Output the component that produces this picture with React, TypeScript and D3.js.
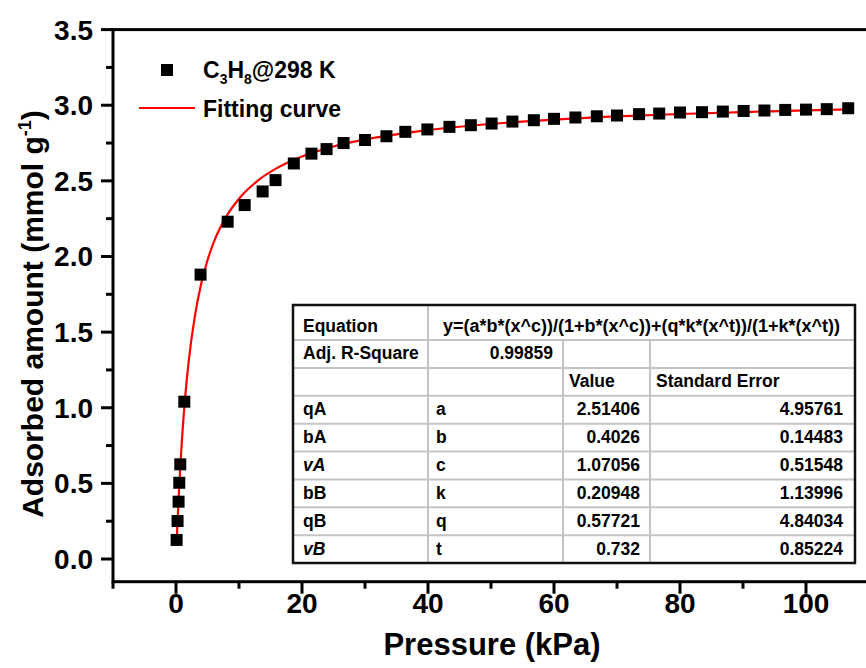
import React from 'react';
import * as d3 from 'd3';

// C3H8 isotherm at 298 K
const pressure = [0.1, 0.25, 0.41, 0.52, 0.68, 1.32, 3.9, 8.2, 10.9, 13.75, 15.8, 18.7, 21.5, 23.9, 26.6, 30.0, 33.4,
  36.4, 39.9, 43.4, 46.8, 50.1, 53.4, 56.8, 60.0, 63.4, 66.8, 70.0, 73.5, 76.7, 80.0, 83.5, 86.8, 90.1, 93.4, 96.7,
  100.0, 103.3, 106.7];
const adsorbed = [0.126, 0.251, 0.379, 0.504, 0.626, 1.04, 1.88, 2.23, 2.34, 2.43, 2.505, 2.615, 2.68, 2.71, 2.75,
  2.77, 2.795, 2.824, 2.84, 2.857, 2.868, 2.879, 2.892, 2.901, 2.91, 2.919, 2.927, 2.932, 2.941, 2.945, 2.952, 2.954,
  2.958, 2.962, 2.965, 2.969, 2.971, 2.974, 2.98];

// red fitting curve
const fitPressure = [0.1, 0.2, 0.3, 0.4, 0.6, 0.8, 1, 1.5, 2, 3, 4, 5, 6, 8, 10, 13, 16, 20, 25, 30, 40, 50, 60, 70,
  80, 90, 100, 106.7];
const fitAdsorbed = [0.105, 0.204, 0.297, 0.386, 0.548, 0.692, 0.822, 1.09, 1.301, 1.607, 1.82, 1.975, 2.095, 2.265,
  2.382, 2.502, 2.584, 2.661, 2.727, 2.774, 2.836, 2.876, 2.905, 2.926, 2.942, 2.955, 2.966, 2.972];

const xTicks = [0, 20, 40, 60, 80, 100];
const xMinorTicks = [-10, 10, 30, 50, 70, 90, 110];
const yTicks = [0, 0.5, 1, 1.5, 2, 2.5, 3, 3.5];
const yMinorTicks = [0.25, 0.75, 1.25, 1.75, 2.25, 2.75, 3.25];

// fit result table
const equation = 'y=(a*b*(x^c))/(1+b*(x^c))+(q*k*(x^t))/(1+k*(x^t))';
const adjRSquare = '0.99859';
const tableParams = ['qA', 'bA', 'vA', 'bB', 'qB', 'vB'];
const italicParams = ['vA', 'vB'];
const tableSymbols = ['a', 'b', 'c', 'k', 'q', 't'];
const tableValues = ['2.51406', '0.4026', '1.07056', '0.20948', '0.57721', '0.732'];
const tableErrors = ['4.95761', '0.14483', '0.51548', '1.13996', '4.84034', '0.85224'];

const W = 866;
const H = 668;
const FONT = '"Liberation Sans", Arial, Helvetica, sans-serif';

export default function App() {
  const x = d3.scaleLinear().domain([-10, 110]).range([113, 869]);
  const y = d3.scaleLinear().domain([-0.15, 3.5]).range([581.7, 29.6]);
  const [x0, x1] = x.range();
  const [yb, yt] = y.range();

  const fitLine = d3.line<number>()
    .x((d) => x(d))
    .y((d, i) => y(fitAdsorbed[i]))
    .curve(d3.curveMonotoneX);

  const fmt = d3.format('.1f');

  // table geometry
  const tL = 293, tR = 855, c1 = 428, c2 = 563, c3 = 650;
  const tTop = 305, row1 = 340, tBot = 563;
  const rowH = (tBot - row1) / 8;
  const rowTop = (i: number) => (i === 0 ? tTop : row1 + (i - 1) * rowH);
  const rowBase = (i: number) => rowTop(i + 1) - 8.5;
  const grid = '#c4c4c4';

  return (
    <svg width={W} height={H} style={{ position: 'absolute', left: 0, top: 0, background: '#fff' }}
      fontFamily={FONT} fontWeight="bold">
      <rect width={W} height={H} fill="#fff" />

      {/* fitting curve */}
      <path d={fitLine(fitPressure) || ''} fill="none" stroke="#ff0000" strokeWidth={2.2} />

      {/* data points */}
      {pressure.map((p, i) => (
        <rect key={i} x={x(p) - 6} y={y(adsorbed[i]) - 6} width={12} height={12} fill="#000" />
      ))}

      {/* axes frame */}
      <rect x={x0} y={yt} width={x1 - x0} height={yb - yt} fill="none" stroke="#000" strokeWidth={3} />

      {/* x ticks */}
      {xTicks.map((t) => (
        <g key={t}>
          <line x1={x(t)} x2={x(t)} y1={yb} y2={yb + 12} stroke="#000" strokeWidth={3} />
          <text x={x(t)} y={613} textAnchor="middle" fontSize={28}>{t}</text>
        </g>
      ))}
      {xMinorTicks.map((t) => (
        <line key={t} x1={x(t)} x2={x(t)} y1={yb} y2={yb + 7} stroke="#000" strokeWidth={3} />
      ))}

      {/* y ticks */}
      {yTicks.map((t) => (
        <g key={t}>
          <line x1={x0 - 12} x2={x0} y1={y(t)} y2={y(t)} stroke="#000" strokeWidth={3} />
          <text x={93} y={y(t) + 10} textAnchor="end" fontSize={28}>{fmt(t)}</text>
        </g>
      ))}
      {yMinorTicks.map((t) => (
        <line key={t} x1={x0 - 7} x2={x0} y1={y(t)} y2={y(t)} stroke="#000" strokeWidth={3} />
      ))}

      {/* axis titles */}
      <text x={(x(0) + x(100)) / 2 + 1} y={655} textAnchor="middle" fontSize={31}>Pressure (kPa)</text>
      <text transform="translate(43,314) rotate(-90)" textAnchor="middle" fontSize={30}>
        Adsorbed amount (mmol g<tspan fontSize={18} dy={-12}>-1</tspan><tspan dy={12}>)</tspan>
      </text>

      {/* legend */}
      <rect x={161} y={64} width={12} height={12} fill="#000" />
      <text x={203} y={78} fontSize={23}>
        C<tspan fontSize={14} dy={6}>3</tspan><tspan dy={-6}>H</tspan><tspan fontSize={14} dy={6}>8</tspan>
        <tspan dy={-6}>@298 K</tspan>
      </text>
      <line x1={139} x2={195} y1={108} y2={108} stroke="#ff0000" strokeWidth={2.2} />
      <text x={203} y={116.5} fontSize={23}>Fitting curve</text>

      {/* fit table */}
      <g fontSize={17.5}>
        <rect x={tL} y={tTop} width={tR - tL} height={tBot - tTop} fill="#fff" />
        {d3.range(1, 9).map((i) => (
          <line key={i} x1={tL} x2={tR} y1={rowTop(i)} y2={rowTop(i)} stroke={grid} strokeWidth={2} />
        ))}
        <line x1={c1} x2={c1} y1={tTop} y2={tBot} stroke={grid} strokeWidth={2} />
        <line x1={c2} x2={c2} y1={row1} y2={tBot} stroke={grid} strokeWidth={2} />
        <line x1={c3} x2={c3} y1={row1} y2={tBot} stroke={grid} strokeWidth={2} />
        <rect x={tL} y={tTop} width={tR - tL} height={tBot - tTop} fill="none" stroke="#111" strokeWidth={2.5} />

        <text x={tL + 10} y={rowBase(0)}>Equation</text>
        <text x={(c1 + tR) / 2} y={rowBase(0)} textAnchor="middle" fontSize={18}>{equation}</text>
        <text x={tL + 10} y={rowBase(1)}>Adj. R-Square</text>
        <text x={c2 - 10} y={rowBase(1)} textAnchor="end">{adjRSquare}</text>
        <text x={c2 + 6} y={rowBase(2)}>Value</text>
        <text x={c3 + 6} y={rowBase(2)}>Standard Error</text>
        {tableParams.map((p, i) => (
          <g key={p}>
            <text x={tL + 10} y={rowBase(i + 3)} fontStyle={italicParams.includes(p) ? 'italic' : 'normal'}>{p}</text>
            <text x={c1 + 8} y={rowBase(i + 3)}>{tableSymbols[i]}</text>
            <text x={c3 - 10} y={rowBase(i + 3)} textAnchor="end">{tableValues[i]}</text>
            <text x={tR - 12} y={rowBase(i + 3)} textAnchor="end">{tableErrors[i]}</text>
          </g>
        ))}
      </g>
    </svg>
  );
}
